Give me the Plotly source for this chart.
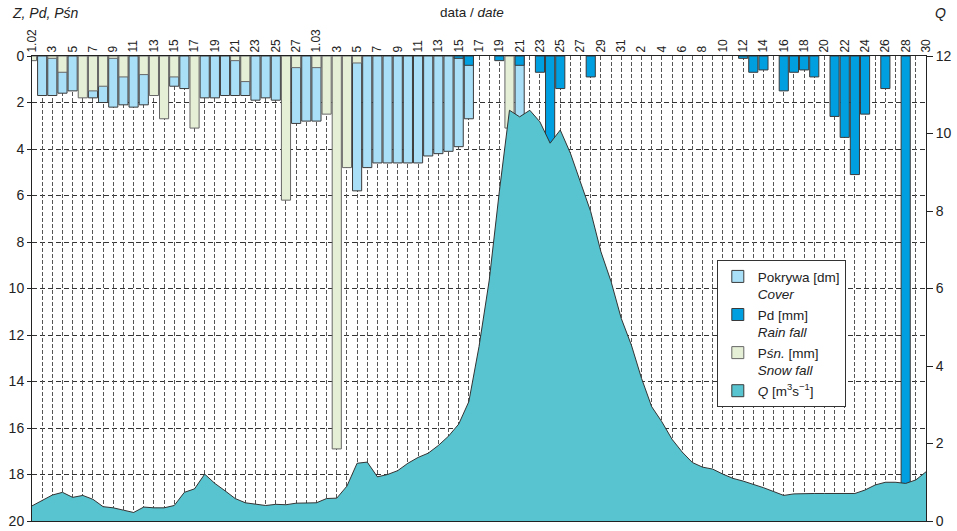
import plotly.graph_objects as go

# ---- data (one value per day, 1 Feb .. 30 Apr) ----
cover_feb = [None, 1.7, 1.7, 1.6, 1.5, None, 1.8, 2.0, 2.2, 2.1, 2.2, 2.1, None, None,
             1.3, 1.4, None, 1.8, 1.8, 1.7, 1.7, 1.7, 1.9, 1.8, 1.9, None, 2.9, 2.8]
cover_mar = [2.8, None, None, None, 5.8, 4.8, 4.6, 4.6, 4.6, 4.6, 4.6, 4.3, 4.2, 4.1,
             3.9, 2.7, None, None, None, None, 2.8] + [None] * 10
cover_apr = [None] * 30

snow_feb = [0.2, None, 0.1, 0.7, None, 1.8, 1.5, 1.3, 0.1, 0.9, None, 0.8, 1.7, 2.7,
            0.9, None, 3.1, None, None, None, 0.2, 1.1, None, None, None, 6.2, 0.5, None]
snow_mar = [0.5, 2.5, 16.9, 4.8, 0.3] + [None] * 14 + [3.1] + [None] * 11
snow_apr = [None] * 30

rain_feb = [None] * 28
rain_mar = [None] * 14 + [0.1, 0.4, None, None, 0.2, None, 0.4, None, 0.7, 4.0, 1.4,
                          None, None, 0.9, None, None, None]
rain_apr = [None] * 11 + [0.1, 0.7, 0.6, None, 1.5, 0.7, 0.6, 0.9, None, 2.6, 3.5, 5.1,
                          2.5, None, 1.4, None, 19.0, None, None]

q_feb = [0.39, 0.54, 0.67, 0.74, 0.61, 0.66, 0.56, 0.37, 0.34, 0.28, 0.22, 0.36, 0.34, 0.34,
         0.40, 0.74, 0.83, 1.21, 0.97, 0.78, 0.58, 0.47, 0.43, 0.40, 0.43, 0.42, 0.46, 0.47]
q_mar = [0.47, 0.58, 0.59, 0.90, 1.49, 1.52, 1.14, 1.20, 1.30, 1.49, 1.64, 1.75, 1.95, 2.19,
         2.50, 3.08, 4.5, 6.2, 8.5, 10.6, 10.43, 10.6, 10.3, 9.75, 10.09, 9.49, 8.71, 7.98,
         6.95, 6.18, 5.23]
q_apr = [4.54, 3.68, 2.95, 2.56, 2.11, 1.78, 1.51, 1.39, 1.34, 1.21, 1.10, 1.03, 0.95, 0.86,
         0.76, 0.66, 0.70, 0.71, 0.71, 0.71, 0.71, 0.71, 0.71, 0.80, 0.93, 1.00, 1.00, 0.97,
         1.06, 1.27]

feb_labels = ["1.02", "3", "5", "7", "9", "11", "13", "15", "17", "19", "21", "23", "25", "27"]
mar_labels = ["1.03", "3", "5", "7", "9", "11", "13", "15", "17", "19", "21", "23", "25", "27",
              "29", "31"]
apr_labels = ["2", "4", "6", "8", "10", "12", "14", "16", "18", "20", "22", "24", "26", "28", "30"]

cover = cover_feb + cover_mar + cover_apr
snow = snow_feb + snow_mar + snow_apr
rain = rain_feb + rain_mar + rain_apr
q = q_feb + q_mar + q_apr
days = list(range(len(q)))

labels = feb_labels + mar_labels + apr_labels
label_days = days[::2]

FONT = "Liberation Sans, Arial, sans-serif"
C_COVER = "#A9E0F8"
C_RAIN = "#009FE0"
C_SNOW = "#E5EFD6"
C_Q = "#57C4CF"
EDGE = "#3a3a3a"

fig = go.Figure()
fig.add_trace(go.Bar(x=days, y=cover, width=0.9, name="Pokrywa [dm]<br><i>Cover</i>",
                     marker=dict(color=C_COVER, line=dict(color=EDGE, width=1))))
fig.add_trace(go.Bar(x=days, y=rain, width=0.9, name="Pd [mm]<br><i>Rain fall</i>",
                     marker=dict(color=C_RAIN, line=dict(color=EDGE, width=1))))
fig.add_trace(go.Bar(x=days, y=snow, width=0.9, name="P<i>śn.</i> [mm]<br><i>Snow fall</i>",
                     marker=dict(color=C_SNOW, line=dict(color="#666666", width=1))))
# legend swatch for Q
fig.add_trace(go.Bar(x=[None], y=[None], name="<i>Q</i> [m<sup>3</sup>s<sup>−1</sup>]",
                     marker=dict(color=C_Q, line=dict(color=EDGE, width=1))))
fig.add_trace(go.Scatter(x=days, y=q, yaxis="y2", mode="lines", fill="tozeroy",
                         fillcolor=C_Q, line=dict(color="#333333", width=1),
                         showlegend=False, hoverinfo="skip"))
# invisible helper trace so the day-gridline axis is drawn
fig.add_trace(go.Scatter(x=[days[0], days[-1]], y=[None, None], xaxis="x2", yaxis="y",
                         showlegend=False, hoverinfo="skip", mode="lines"))

fig.update_layout(
    width=957, height=531,
    margin=dict(l=32, r=31, t=56, b=10, autoexpand=False),
    paper_bgcolor="white", plot_bgcolor="white",
    barmode="overlay",
    font=dict(family=FONT, color="#222222", size=13),
    showlegend=True,
    legend=dict(x=0.766, y=0.561, xanchor="left", yanchor="top",
                bgcolor="white", bordercolor="#333333", borderwidth=1,
                font=dict(size=13.5, family=FONT, color="#222222"),
                traceorder="normal", valign="top", itemwidth=30,
                tracegroupgap=0),
    xaxis=dict(range=[0, days[-1]], side="top", tickmode="array", tickvals=label_days,
               ticktext=labels, tickangle=-90, tickfont=dict(size=12),
               showgrid=False, automargin=False,
               showline=True, mirror=True, linecolor="#222222", linewidth=1,
               ticks="", zeroline=False),
    xaxis2=dict(range=[0, days[-1]], overlaying="x", side="bottom", tickmode="array",
                tickvals=days, showticklabels=False, ticks="",
                showgrid=True, griddash="4px,2px", gridcolor="#555555", gridwidth=1,
                showline=False, zeroline=False, automargin=False),
    yaxis=dict(range=[20, 0], tickvals=list(range(0, 21, 2)), tickfont=dict(size=14),
               showgrid=True, griddash="5px,3px", gridcolor="#333333", gridwidth=1,
               showline=True, mirror=True, linecolor="#222222", linewidth=1,
               ticks="outside", ticklen=4, tickcolor="#222222", zeroline=False,
               automargin=False),
    yaxis2=dict(range=[0, 12], dtick=2, overlaying="y", side="right",
                tickfont=dict(size=14), showgrid=False, zeroline=False,
                showline=True, linecolor="#222222", linewidth=1,
                ticks="outside", ticklen=6, tickcolor="#222222", automargin=False),
    annotations=[
        dict(text="<i>Z, Pd, Pśn</i>", xref="paper", yref="paper", x=-0.025, y=1.093,
             xanchor="left", yanchor="middle", showarrow=False, font=dict(size=14)),
        dict(text="data / <i>date</i>", xref="paper", yref="paper", x=0.492, y=1.093,
             xanchor="center", yanchor="middle", showarrow=False, font=dict(size=13.5)),
        dict(text="<i>Q</i>", xref="paper", yref="paper", x=1.016, y=1.093,
             xanchor="center", yanchor="middle", showarrow=False, font=dict(size=14)),
    ],
)

fig.write_html("out.html", config={"displayModeBar": False},
               post_script="document.body.style.margin='0';document.body.style.overflow='hidden';")
